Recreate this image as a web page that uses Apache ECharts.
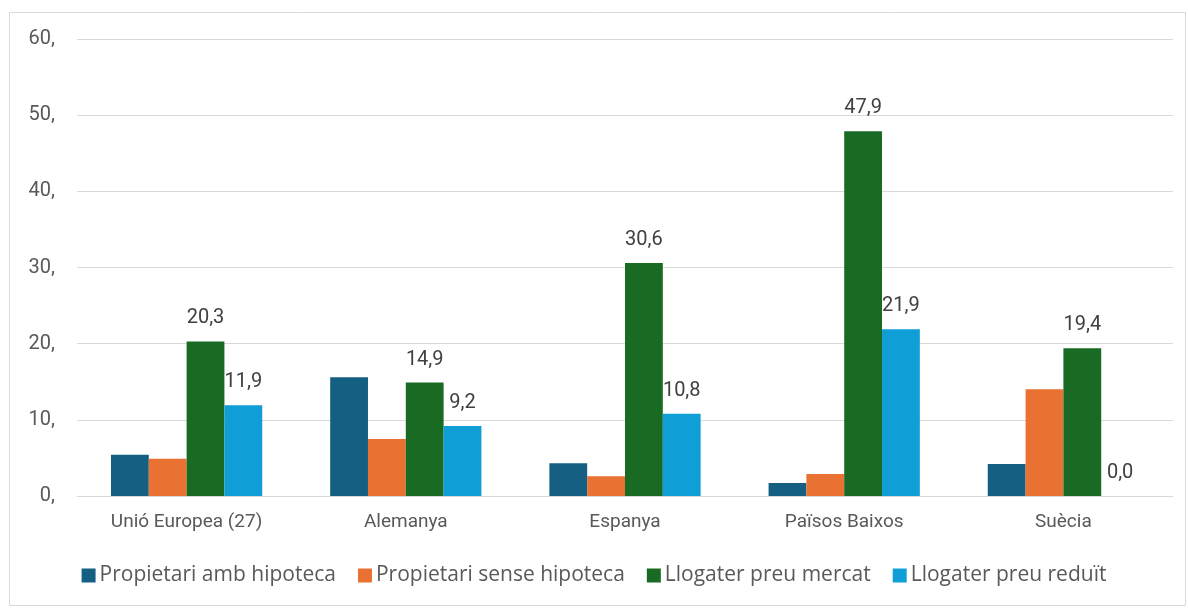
<!DOCTYPE html>
<html>
<head>
<meta charset="utf-8">
<script src="https://cdn.jsdelivr.net/npm/echarts@6/dist/echarts.min.js"></script>
<style>
  html, body { margin: 0; padding: 0; background: #fff; }
  #chart { width: 1188px; height: 609px; }
</style>
</head>
<body>
<div id="chart"></div>
<script>
// categories (countries)
const categories = ['Unió Europea (27)', 'Alemanya', 'Espanya', 'Països Baixos', 'Suècia'];

// series values
const propietariAmbHipoteca = [5.4, 15.6, 4.3, 1.7, 4.2];
const propietariSenseHipoteca = [4.9, 7.5, 2.6, 2.9, 14.0];
const llogaterPreuMercat = [20.3, 14.9, 30.6, 47.9, 19.4];
const llogaterPreuReduit = [11.9, 9.2, 10.8, 21.9, 0.0];

const seriesNames = ['Propietari amb hipoteca', 'Propietari sense hipoteca', 'Llogater preu mercat', 'Llogater preu reduït'];
const colors = ['#156082', '#E97132', '#196B24', '#0F9ED5'];

const axisFont = 'Roboto, "Open Sans", sans-serif';

function fmt(v) {
  return v.toFixed(1).replace('.', ',');
}

function barSeries(name, data, color, withLabel) {
  return {
    name: name,
    type: 'bar',
    data: data,
    barGap: '0%',
    barCategoryGap: '31%',
    itemStyle: { color: color },
    label: {
      show: withLabel,
      position: 'top',
      distance: 13,
      color: '#404040',
      fontSize: 20,
      fontFamily: axisFont,
      formatter: p => fmt(p.value)
    }
  };
}

const chart = echarts.init(document.getElementById('chart'));
chart.setOption({
  animation: false,
  graphic: [{
    type: 'rect',
    shape: { x: 9.5, y: 12.5, width: 1176, height: 593 },
    style: { fill: 'none', stroke: '#d9d9d9', lineWidth: 1 },
    silent: true
  }],
  grid: {
    left: 77,
    right: 15,
    top: 39,
    bottom: 113
  },
  legend: {
    bottom: 18,
    left: 'center',
    itemWidth: 14,
    itemHeight: 14,
    itemGap: 22,
    icon: 'rect',
    textStyle: {
      color: '#595959',
      fontSize: 21,
      fontFamily: '"Open Sans", sans-serif',
      padding: [0, 0, 0, -1]
    },
    data: seriesNames
  },
  xAxis: {
    type: 'category',
    data: categories,
    axisTick: { show: false },
    axisLine: { lineStyle: { color: '#d9d9d9', width: 1 } },
    axisLabel: {
      color: '#595959',
      fontSize: 19,
      fontFamily: axisFont,
      margin: 17
    }
  },
  yAxis: {
    type: 'value',
    min: 0,
    max: 60,
    interval: 10,
    axisLine: { show: false },
    axisTick: { show: false },
    splitLine: { lineStyle: { color: '#d9d9d9', width: 1 } },
    axisLabel: {
      color: '#595959',
      fontSize: 20,
      fontFamily: axisFont,
      margin: 22,
      formatter: v => v + ','
    }
  },
  series: [
    barSeries(seriesNames[0], propietariAmbHipoteca, colors[0], false),
    barSeries(seriesNames[1], propietariSenseHipoteca, colors[1], false),
    barSeries(seriesNames[2], llogaterPreuMercat, colors[2], true),
    barSeries(seriesNames[3], llogaterPreuReduit, colors[3], true)
  ]
});
</script>
</body>
</html>
